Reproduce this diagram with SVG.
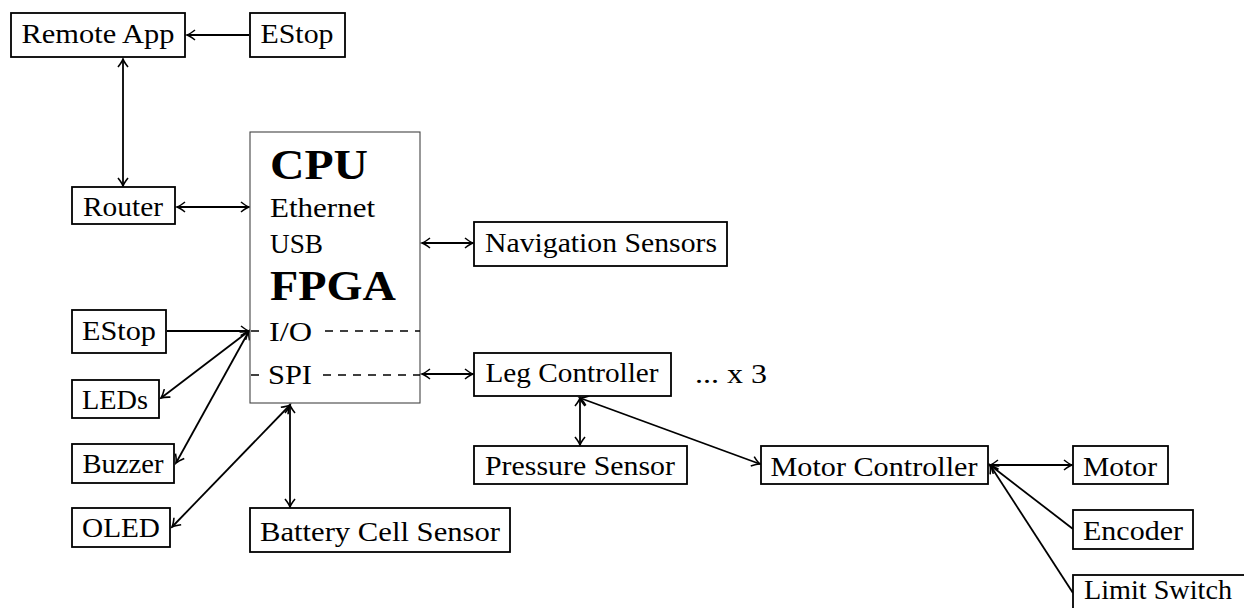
<svg xmlns="http://www.w3.org/2000/svg" width="1244" height="608" viewBox="0 0 1244 608">
<style>
.box{fill:#fff;stroke:#000;stroke-width:1.8}
.cpu{fill:#fff;stroke:#444;stroke-width:1.1}
.t{font-family:"Liberation Serif",serif;font-size:28px;fill:#000;text-anchor:middle}
.tl{font-family:"Liberation Serif",serif;font-size:28px;fill:#000}
.b{font-family:"Liberation Serif",serif;font-size:43px;font-weight:bold;fill:#000}
.c{fill:none;stroke:#000;stroke-width:1.8}
.d{fill:none;stroke:#000;stroke-width:1.5;stroke-dasharray:8 7}
</style>
<defs>
<marker id="ah" markerUnits="userSpaceOnUse" orient="auto-start-reverse" refX="0" refY="0" markerWidth="12" markerHeight="12" viewBox="-9 -6 10 12" overflow="visible">
<path d="M-8,-5 C-4.5,-2.2 -1.5,-0.5 0,0 C-1.5,0.5 -4.5,2.2 -8,5" fill="none" stroke="#000" stroke-width="1.6"/>
</marker>
</defs>
<g id="connectors">
<line class="c" x1="249" y1="35" x2="187" y2="35" marker-end="url(#ah)"/>
<line class="c" x1="123" y1="59" x2="123" y2="186" marker-start="url(#ah)" marker-end="url(#ah)"/>
<line class="c" x1="177" y1="207" x2="249" y2="207" marker-start="url(#ah)" marker-end="url(#ah)"/>
<line class="c" x1="422" y1="243" x2="473" y2="243" marker-start="url(#ah)" marker-end="url(#ah)"/>
<line class="c" x1="422" y1="374" x2="473" y2="374" marker-start="url(#ah)" marker-end="url(#ah)"/>
<line class="c" x1="580" y1="398" x2="580" y2="445" marker-start="url(#ah)" marker-end="url(#ah)"/>
<line class="c" x1="580" y1="398" x2="760" y2="464" marker-start="url(#ah)" marker-end="url(#ah)"/>
<line class="c" x1="990" y1="465" x2="1072" y2="465" marker-start="url(#ah)" marker-end="url(#ah)"/>
<line class="c" x1="1073" y1="529" x2="990" y2="465" marker-end="url(#ah)"/>
<line class="c" x1="1073" y1="593" x2="990" y2="465" marker-end="url(#ah)"/>
<line class="c" x1="167" y1="331" x2="249" y2="331" marker-end="url(#ah)"/>
<line class="c" x1="249" y1="331" x2="161" y2="398" marker-start="url(#ah)" marker-end="url(#ah)"/>
<line class="c" x1="249" y1="331" x2="176" y2="463" marker-start="url(#ah)" marker-end="url(#ah)"/>
<line class="c" x1="172" y1="527" x2="290" y2="405" marker-start="url(#ah)" marker-end="url(#ah)"/>
<line class="c" x1="290" y1="405" x2="290" y2="507" marker-start="url(#ah)" marker-end="url(#ah)"/>
</g>
<g id="remote-app"><rect class="box" x="11" y="13" width="174" height="44"/><text class="t" x="98" y="43" textLength="153" lengthAdjust="spacingAndGlyphs">Remote App</text></g>
<g id="estop-top"><rect class="box" x="250" y="13" width="95" height="44"/><text class="t" x="297" y="43" textLength="73" lengthAdjust="spacingAndGlyphs">EStop</text></g>
<g id="router"><rect class="box" x="72" y="187" width="103" height="37"/><text class="t" x="123" y="216" textLength="80" lengthAdjust="spacingAndGlyphs">Router</text></g>
<g id="cpu">
<rect class="cpu" x="250" y="132" width="170" height="271"/>
<text class="b" x="270" y="179" textLength="98" lengthAdjust="spacingAndGlyphs">CPU</text>
<text class="tl" x="270" y="217" textLength="105" lengthAdjust="spacingAndGlyphs">Ethernet</text>
<text class="tl" x="270" y="253" textLength="53" lengthAdjust="spacingAndGlyphs">USB</text>
<text class="b" x="270" y="300" textLength="126" lengthAdjust="spacingAndGlyphs">FPGA</text>
<line class="d" x1="251" y1="331" x2="260" y2="331"/>
<text class="tl" x="269" y="341" textLength="43" lengthAdjust="spacingAndGlyphs">I/O</text>
<line class="d" x1="325" y1="331" x2="420" y2="331"/>
<line class="d" x1="251" y1="375" x2="260" y2="375"/>
<text class="tl" x="268" y="384" textLength="44" lengthAdjust="spacingAndGlyphs">SPI</text>
<line class="d" x1="323" y1="375" x2="420" y2="375"/>
</g>
<g id="nav-sensors"><rect class="box" x="474" y="222" width="253" height="44"/><text class="t" x="601" y="252" textLength="232" lengthAdjust="spacingAndGlyphs">Navigation Sensors</text></g>
<g id="leg-controller"><rect class="box" x="474" y="353" width="197" height="43"/><text class="t" x="572" y="382" textLength="173" lengthAdjust="spacingAndGlyphs">Leg Controller</text></g>
<g id="x3"><text class="tl" x="695" y="383" textLength="72" lengthAdjust="spacingAndGlyphs">... x 3</text></g>
<g id="pressure-sensor"><rect class="box" x="474" y="446" width="213" height="38"/><text class="t" x="580" y="475" textLength="190" lengthAdjust="spacingAndGlyphs">Pressure Sensor</text></g>
<g id="motor-controller"><rect class="box" x="761" y="446" width="227" height="38"/><text class="t" x="874" y="476" textLength="207" lengthAdjust="spacingAndGlyphs">Motor Controller</text></g>
<g id="motor"><rect class="box" x="1073" y="446" width="95" height="38"/><text class="t" x="1120" y="476" textLength="74" lengthAdjust="spacingAndGlyphs">Motor</text></g>
<g id="encoder"><rect class="box" x="1073" y="510" width="120" height="39"/><text class="t" x="1133" y="540" textLength="100" lengthAdjust="spacingAndGlyphs">Encoder</text></g>
<g id="limit-switch"><rect class="box" x="1073" y="575" width="180" height="44"/><text class="t" x="1158" y="599" textLength="148" lengthAdjust="spacingAndGlyphs">Limit Switch</text></g>
<g id="estop-left"><rect class="box" x="72" y="310" width="94" height="43"/><text class="t" x="119" y="340" textLength="74" lengthAdjust="spacingAndGlyphs">EStop</text></g>
<g id="leds"><rect class="box" x="72" y="380" width="87" height="38"/><text class="t" x="115" y="409" textLength="66" lengthAdjust="spacingAndGlyphs">LEDs</text></g>
<g id="buzzer"><rect class="box" x="72" y="444" width="102" height="39"/><text class="t" x="123" y="473" textLength="81" lengthAdjust="spacingAndGlyphs">Buzzer</text></g>
<g id="oled"><rect class="box" x="72" y="508" width="98" height="39"/><text class="t" x="121" y="537" textLength="78" lengthAdjust="spacingAndGlyphs">OLED</text></g>
<g id="battery"><rect class="box" x="250" y="508" width="260" height="44"/><text class="t" x="380" y="541" textLength="240" lengthAdjust="spacingAndGlyphs">Battery Cell Sensor</text></g>
</svg>
